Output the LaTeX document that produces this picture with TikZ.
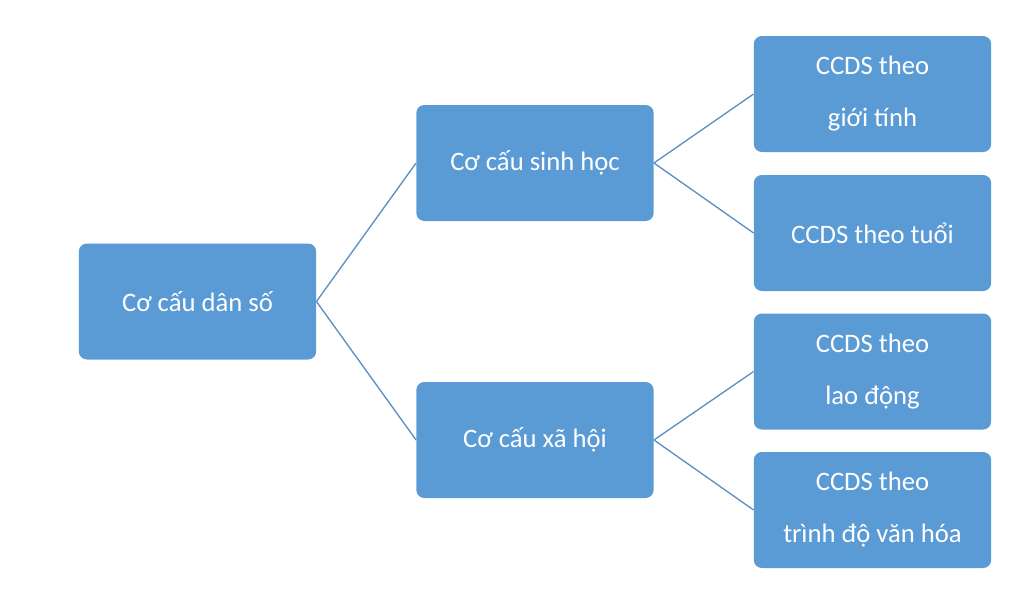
\documentclass[tikz,border=0pt]{standalone}
\usepackage{fontspec}
\setmainfont{Carlito}
\definecolor{boxblue}{HTML}{5B9BD5}
\definecolor{lineblue}{HTML}{5B8FC7}
\begin{document}
\begin{tikzpicture}[x=0.75pt,y=-0.75pt,
  box/.style={draw=none,fill=boxblue,rounded corners=6pt,minimum width=178pt,minimum height=87pt,text=white,align=center,font=\fontsize{20}{39}\selectfont,inner sep=0pt},
  link/.style={draw=lineblue,line width=1pt}]
\useasboundingbox (0,0) rectangle (1024,597);
\node[box] (root) at (197.5,301.5) {Cơ cấu dân số};
\node[box] (m1) at (535,163) {Cơ cấu sinh học};
\node[box] (m2) at (535,440) {Cơ cấu xã hội};
\node[box] (l1) at (872.5,94) {CCDS theo\\giới tính};
\node[box] (l2) at (872.5,233) {CCDS theo tuổi};
\node[box] (l3) at (872.5,371.5) {CCDS theo\\lao động};
\node[box] (l4) at (872.5,510) {CCDS theo\\trình độ văn hóa};
\draw[link] (root.east) -- (m1.west);
\draw[link] (root.east) -- (m2.west);
\draw[link] (m1.east) -- (l1.west);
\draw[link] (m1.east) -- (l2.west);
\draw[link] (m2.east) -- (l3.west);
\draw[link] (m2.east) -- (l4.west);
\end{tikzpicture}
\end{document}
